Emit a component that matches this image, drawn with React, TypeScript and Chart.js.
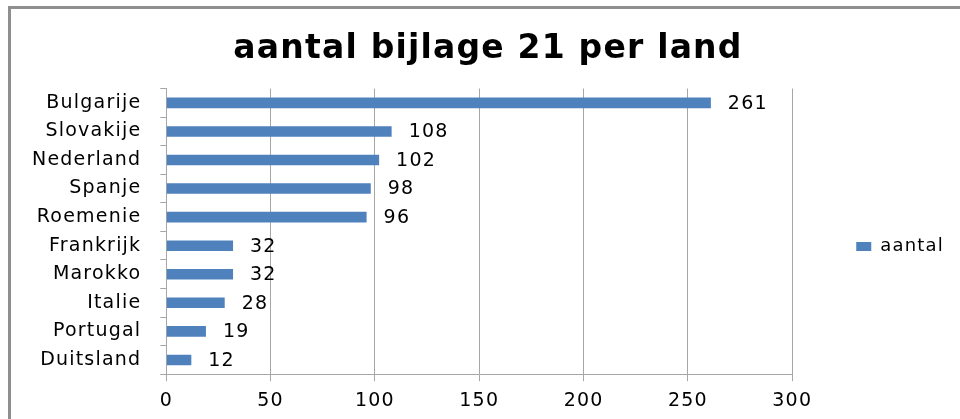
import React, { useEffect, useRef } from 'react';
import { Chart, registerables } from 'chart.js';

Chart.register(...registerables);

const categories = ['Bulgarije', 'Slovakije', 'Nederland', 'Spanje', 'Roemenie', 'Frankrijk', 'Marokko', 'Italie', 'Portugal', 'Duitsland'];
const aantal = [261, 108, 102, 98, 96, 32, 32, 28, 19, 12];
const xTicks = [0, 50, 100, 150, 200, 250, 300];
const chartTitle = 'aantal bijlage 21 per land';
const seriesName = 'aantal';

const FONT = "'DejaVu Sans', Verdana, sans-serif";
const SPACING = '1.2px';
const GRID = '#a6a6a6';

const spacingPlugin = {
  id: 'spacing',
  beforeLayout(chart: any) { chart.ctx.letterSpacing = SPACING; },
  beforeDraw(chart: any) { chart.ctx.letterSpacing = SPACING; },
};

const boxShift = {
  id: 'boxShift',
  afterLayout(chart: any) {
    const area = chart.chartArea;
    const lg = chart.legend;
    if (lg) {
      const dx = area.right + 64 - (lg.left + 10);
      lg.left += dx;
      lg.right += dx;
      const dy = (area.top + area.bottom) / 2 + 15 - (lg.top + lg.bottom) / 2;
      lg.top += dy;
      lg.bottom += dy;
    }
    const tb = chart.titleBlock;
    if (tb) {
      const dx = 488 - (tb.left + tb.right) / 2;
      tb.left += dx;
      tb.right += dx;
    }
  },
};

const valueLabels = {
  id: 'valueLabels',
  afterDatasetsDraw(chart: any) {
    const ctx = chart.ctx;
    const meta = chart.getDatasetMeta(0);
    ctx.save();
    ctx.letterSpacing = SPACING;
    ctx.font = `19px ${FONT}`;
    ctx.fillStyle = '#000';
    ctx.textAlign = 'left';
    ctx.textBaseline = 'middle';
    meta.data.forEach((bar: any, i: number) => {
      ctx.fillText(String(aantal[i]), bar.x + 17, bar.y + 1);
    });
    ctx.restore();
  },
};

export default function App() {
  const ref = useRef<HTMLCanvasElement>(null);
  useEffect(() => {
    if (!ref.current) return;
    const chart = new Chart(ref.current, {
      type: 'bar',
      data: {
        labels: categories,
        datasets: [{
          label: seriesName,
          data: aantal,
          backgroundColor: '#4f81bd',
          borderWidth: 0,
          barPercentage: 0.37,
          categoryPercentage: 1,
        }],
      },
      options: {
        indexAxis: 'y',
        animation: false,
        responsive: false,
        maintainAspectRatio: false,
        layout: { padding: { left: 13, right: 60, top: 0, bottom: -1 } },
        plugins: {
          title: {
            display: true,
            text: chartTitle,
            color: '#000',
            font: { family: FONT, size: 33, weight: 'bold' },
            padding: { top: 30, bottom: 19 },
          },
          legend: {
            position: 'right',
            labels: { boxWidth: 15, boxHeight: 9, padding: 10, color: '#000', font: { family: FONT, size: 18 } },
          },
          tooltip: { enabled: false },
        },
        scales: {
          x: {
            min: 0,
            max: 300,
            afterBuildTicks: (s: any) => { s.ticks = xTicks.map((v) => ({ value: v })); },
            grid: { color: GRID, tickLength: 7, drawTicks: true },
            border: { color: GRID },
            ticks: { color: '#000', font: { family: FONT, size: 19 }, padding: 8, maxRotation: 0 },
          },
          y: {
            grid: { drawOnChartArea: false, tickLength: 6, offset: true, color: GRID },
            border: { color: GRID },
            ticks: { color: '#000', font: { family: FONT, size: 19 }, padding: 19, autoSkip: false },
          },
        },
      },
      plugins: [spacingPlugin, boxShift, valueLabels],
    } as any);
    return () => chart.destroy();
  }, []);

  return (
    <div style={{ position: 'fixed', left: 0, top: 0, width: 960, height: 419, overflow: 'hidden', background: '#fff' }}>
      <div style={{ position: 'absolute', left: 8, top: 6, width: 1000, height: 500, border: '3px solid #8f8f8f', boxSizing: 'border-box' }} />
      <canvas ref={ref} width={960} height={419} style={{ position: 'absolute', left: 0, top: 0, width: 960, height: 419 }} />
    </div>
  );
}
